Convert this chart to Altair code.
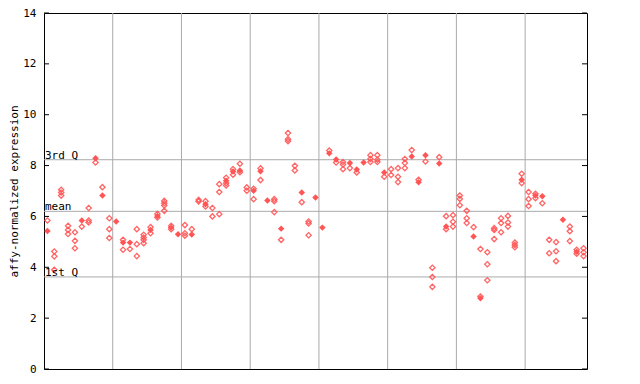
import altair as alt
import pandas as pd

# replicate values per sample (hollow diamonds), 79 samples
replicates = [
    [5.84], [4.62, 4.43, 3.90], [7.05, 6.94, 6.82], [5.63, 5.47, 5.31], [5.38, 5.04, 4.75],
    [5.60], [6.33, 5.84, 5.76], [8.12], [7.15], [5.93, 5.50, 5.15],
    [], [5.08, 4.69], [4.72], [5.50, 4.91, 4.44], [5.28, 5.17, 5.08, 4.95],
    [5.58, 5.34], [6.10, 5.96], [6.61, 6.52, 6.43, 6.22], [5.63, 5.50], [],
    [5.66, 5.34, 5.24], [5.50], [6.65, 6.59], [6.60, 6.39], [6.33, 6.00],
    [7.27, 6.96, 6.09], [7.52, 7.31, 7.22], [7.86, 7.64], [8.07, 7.74], [7.14, 7.01],
    [7.09, 6.68], [7.89, 7.43], [], [6.68, 6.60, 6.17], [5.08],
    [9.28, 9.04, 8.96], [7.99, 7.81], [6.56], [5.80, 5.72, 5.26], [],
    [], [8.59], [8.12], [8.14, 8.04, 7.86], [7.90],
    [7.73], [], [8.41, 8.26, 8.14], [8.41, 8.23, 8.14], [7.56],
    [7.86, 7.63], [7.90, 7.56, 7.35], [8.26, 8.10, 7.90], [8.61], [7.44],
    [8.16], [3.98, 3.62, 3.23], [8.33], [6.01, 5.50], [6.05, 5.79, 5.60],
    [6.82, 6.69, 6.44], [6.22, 5.93, 5.74], [5.58], [4.72, 2.85], [4.59, 4.12, 3.49],
    [5.54, 5.47, 5.11], [5.93, 5.74, 5.38], [6.02, 5.76, 5.60], [4.97, 4.88, 4.79], [7.68, 7.31],
    [6.96, 6.68, 6.41], [6.89, 6.72], [6.52], [5.08, 4.55], [4.99, 4.63, 4.24],
    [], [5.60, 5.42, 5.03], [4.69, 4.53], [4.75, 4.59, 4.44],
]

# sample means (filled diamonds); None where no filled marker is drawn
means = [
    5.43, None, None, None, None, 5.84, None, 8.29, 6.82, None,
    5.80, 4.97, 4.97, None, None, 5.47, 6.02, None, 5.56, 5.30,
    None, 5.29, None, 6.48, None, None, 7.40, 7.77, 7.81, None,
    7.01, 7.78, 6.63, None, 5.52, None, None, 6.94, None, 6.74,
    5.56, 8.48, 8.24, None, 8.10, 7.85, 8.12, None, None, 7.73,
    None, None, None, 8.36, 7.34, 8.41, None, 8.08, 5.60, None,
    None, None, 5.21, 2.78, None, None, None, None, None, 7.44,
    None, 6.82, 6.79, None, None, 5.87, None, 4.61, None,
]

group_bounds = [10.5, 20.5, 30.5, 40.5, 50.5, 60.5, 70.5]
y_ticks = [0, 2, 4, 6, 8, 10, 12, 14]
quartile_names = ["3rd Q", "mean", "1st Q"]
quartile_values = [8.23, 6.20, 3.62]

W, H = 543, 356
RED = "#ff5555"
GRID = "#aaaaaa"
FONT = "DejaVu Sans Mono"

hollow_df = pd.DataFrame(
    [{"sample": i + 1, "value": v} for i, vals in enumerate(replicates) for v in vals]
)
mean_df = pd.DataFrame(
    [{"sample": i + 1, "value": m} for i, m in enumerate(means) if m is not None]
)
bounds_df = pd.DataFrame({"sample": group_bounds})
ticks_df = pd.DataFrame({"value": y_ticks})
quart_df = pd.DataFrame({"name": quartile_names, "value": quartile_values})

xs = alt.Scale(domain=[0.5, 79.5], nice=False, zero=False)
ys = alt.Scale(domain=[0, 14], nice=False, zero=False)
TITLE = "affy-normalized expression"
yaxis = alt.Axis(values=y_ticks, grid=False, ticks=False, domain=False,
                 labelPadding=8, titlePadding=3)


def Y():
    return alt.Y("value:Q", scale=ys, axis=yaxis, title=TITLE)


grid = alt.Chart(bounds_df).mark_rule(color=GRID, strokeWidth=1).encode(
    x=alt.X("sample:Q", scale=xs, axis=None)
)

qlines = alt.Chart(quart_df).mark_rule(color=GRID, strokeWidth=1).encode(y=Y())

qtext = alt.Chart(quart_df).mark_text(
    align="left", baseline="bottom", font=FONT, fontSize=11, color="black", dy=1
).encode(x=alt.value(1), y=Y(), text="name:N")

hollow = alt.Chart(hollow_df).mark_point(
    shape="diamond", filled=False, color=RED, size=28, strokeWidth=1.3, opacity=0.9
).encode(x=alt.X("sample:Q", scale=xs, axis=None), y=Y())

filled = alt.Chart(mean_df).mark_point(
    shape="diamond", filled=True, color=RED, size=42, opacity=1
).encode(x=alt.X("sample:Q", scale=xs, axis=None), y=Y())

lticks = alt.Chart(ticks_df).mark_rule(color="black").encode(
    x=alt.value(0), x2=alt.value(5), y=Y()
)
rticks = alt.Chart(ticks_df).mark_rule(color="black").encode(
    x=alt.value(W - 5), x2=alt.value(W), y=Y()
)

chart = alt.layer(grid, qlines, hollow, filled, lticks, rticks, qtext).properties(
    width=W, height=H,
    autosize=alt.AutoSizeParams(type="none"),
    padding={"left": 36, "top": 5, "right": 45, "bottom": 7},
).configure_view(
    stroke="black", strokeWidth=1
).configure_axis(
    labelFont=FONT, labelFontSize=11, labelColor="black",
    titleFont=FONT, titleFontSize=11, titleFontWeight="normal", titleColor="black",
)

chart.save("out.html", embed_options={"renderer": "svg", "actions": False})
